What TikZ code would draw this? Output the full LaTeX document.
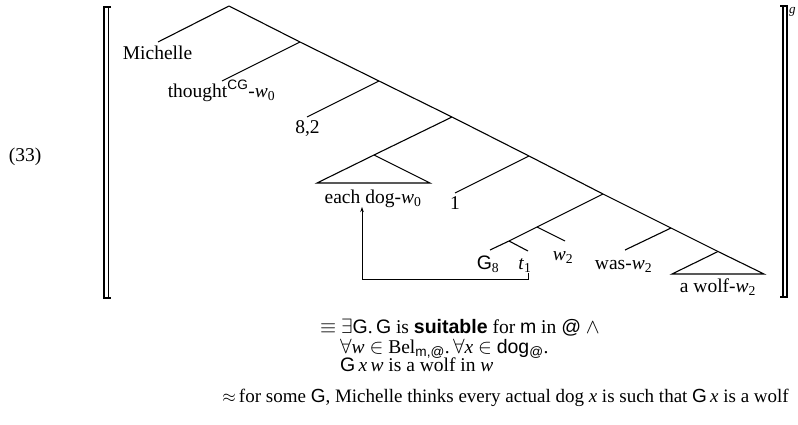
\documentclass[tikz,border=0pt]{standalone}
\usepackage{fontspec}
\setmainfont{Liberation Serif}
\setsansfont{Liberation Sans}
\usetikzlibrary{arrows.meta}
\begin{document}
\begin{tikzpicture}[x=1pt,y=-1pt,
  tl/.style={line width=1.1pt},
  lbl/.style={inner sep=0pt,anchor=base,font=\fontsize{19.5}{23}\selectfont},
  txt/.style={inner sep=0pt,anchor=base west,font=\fontsize{19.5}{23}\selectfont},
  brk/.style={line width=1.1pt}]
\useasboundingbox (0,0) rectangle (798,424);
% spine coordinates
\coordinate (root) at (229,6);
\coordinate (s1) at (300,42);
\coordinate (s2) at (379,81);
\coordinate (s3) at (452,117);
\coordinate (s4) at (529,156);
\coordinate (s5) at (603,194);
\coordinate (s6) at (671,228);
\coordinate (wa) at (718,251.5);
\coordinate (wr) at (764,274);
\coordinate (wl) at (672,274);
\coordinate (mE) at (158,42);
\coordinate (tE) at (222,81);
\coordinate (eE) at (307,117);
\coordinate (da) at (374,155);
\coordinate (dl) at (317,183);
\coordinate (dr) at (430,183);
\coordinate (oE) at (455,193);
\coordinate (na) at (537,227);
\coordinate (nb) at (509,241);
\coordinate (w2E) at (565,241);
\coordinate (t1E) at (528,251);
\coordinate (gE) at (490,250);
\coordinate (wasE) at (625,250);
% tree
\draw[tl] (root) -- (s1) -- (s2) -- (s3) -- (s4) -- (s5) -- (s6) -- (wa);
\draw[tl] (wa) -- (wr) -- (wl) -- cycle;
\draw[tl] (root) -- (mE);
\draw[tl] (s1) -- (tE);
\draw[tl] (s2) -- (eE);
\draw[tl] (s3) -- (da);
\draw[tl] (da) -- (dl) -- (dr) -- cycle;
\draw[tl] (s4) -- (oE);
\draw[tl] (s5) -- (na) -- (nb) -- (gE);
\draw[tl] (na) -- (w2E);
\draw[tl] (nb) -- (t1E);
\draw[tl] (s6) -- (wasE);
% labels
\node[lbl] (ex) at (25,161) {(33)};
\node[lbl] (mich) at (157.5,59) {Michelle};
\node[lbl] (thought) at (221.5,97) {thought\textsuperscript{\sffamily CG}-\textit{w}\textsubscript{0}};
\node[lbl] (eight) at (307.5,133) {8,2};
\node[lbl] (dog) at (373,203) {each dog-\textit{w}\textsubscript{0}};
\node[lbl] (one) at (455,209) {1};
\node[lbl] (g8) at (488,269) {\textsf{G}\textsubscript{8}};
\node[lbl] (t1) at (525,269) {\textit{t}\textsubscript{1}};
\node[lbl] (w2) at (563,260) {\textit{w}\textsubscript{2}};
\node[lbl] (was) at (623.5,269) {was-\textit{w}\textsubscript{2}};
\node[lbl] (wolf) at (718,292) {a wolf-\textit{w}\textsubscript{2}};
% movement arrow
\coordinate (aS) at (528,273);
\coordinate (aC1) at (528,279);
\coordinate (aC2) at (362,279);
\coordinate (aT) at (362,207);
\draw[line width=0.8pt,-{Stealth[length=5pt,width=3.5pt]}] (aS) -- (aC1) -- (aC2) -- (aT);
% brackets
\draw[brk] (111,7) -- (104,7) -- (104,298) -- (111,298);
\draw[brk] (108.5,7) -- (108.5,298);
\draw[brk] (780,6) -- (787,6) -- (787,297) -- (780,297);
\draw[brk] (783,6) -- (783,297);
\node[inner sep=0pt,anchor=base west,font=\fontsize{13}{15}\selectfont] (gsup) at (789,13) {\textit{g}};
% formula
\node[txt] (l1) at (320,333) {$\equiv$ $\exists$\textsf{G}.\,\textsf{G} is \textsf{\textbf{suitable}} for \textsf{m} in \textsf{@} $\wedge$};
\node[txt] (l2) at (340,353) {$\forall$\textit{w} $\in$ Bel\textsubscript{\sffamily m,@}.\,$\forall$\textit{x} $\in$ \textsf{dog}\textsubscript{\sffamily @}.};
\node[txt] (l3) at (340,371) {\textsf{G}\,\textit{x}\,\textit{w} is a wolf in \textit{w}};
\node[inner sep=0pt,anchor=base east,font=\fontsize{19}{23}\selectfont] (l4) at (789,402) {$\approx$\,for some \textsf{G}, Michelle thinks every actual dog \textit{x} is such that \textsf{G}\,\textit{x} is a wolf};
\end{tikzpicture}
\end{document}
